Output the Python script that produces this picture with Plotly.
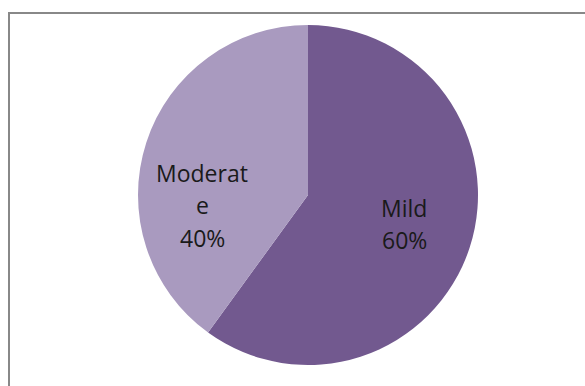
import plotly.graph_objects as go

categories = ["Mild", "Moderate"]
values = [60, 40]
label_lines = [["Mild", "60%"], ["Moderat", "e", "40%"]]
colors = ["#72598F", "#A99ABF"]

W, H = 585, 386
LINE = 32.5

fig = go.Figure()
fig.add_trace(go.Pie(
    labels=categories,
    values=values,
    sort=False,
    direction="clockwise",
    rotation=0,
    marker=dict(colors=colors, line=dict(width=0)),
    textinfo="none",
    hoverinfo="label+percent",
    domain=dict(x=[138 / W, 478 / W], y=[1 - 365 / H, 1 - 25 / H]),
    showlegend=False,
))

# block centers (px) for each slice label
ann_pos = [(404, 224), (202, 205)]
for lines, (cx, cy) in zip(label_lines, ann_pos):
    n = len(lines)
    for i, ln in enumerate(lines):
        py = cy + (i - (n - 1) / 2) * LINE
        fig.add_annotation(
            x=cx / W, y=1 - py / H, xref="paper", yref="paper", text=ln, showarrow=False,
            font=dict(family="Open Sans", size=23, color="#1a1a1a"),
            xanchor="center", yanchor="middle",
        )

fig.add_shape(type="rect", xref="paper", yref="paper",
              x0=9 / W, x1=1.05, y0=-0.05, y1=1 - 13 / H,
              line=dict(color="#888888", width=2), fillcolor="rgba(0,0,0,0)")

fig.update_layout(
    width=W, height=H,
    margin=dict(l=0, r=0, t=0, b=0),
    paper_bgcolor="white", plot_bgcolor="white",
)

fig.write_html("out.html")
